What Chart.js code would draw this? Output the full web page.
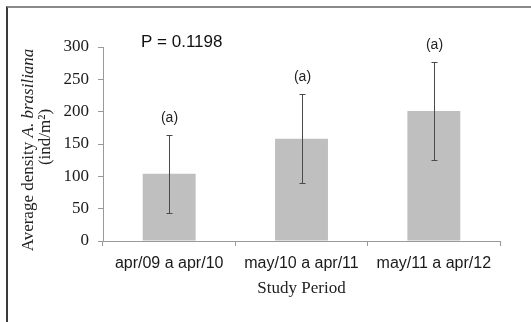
<!DOCTYPE html>
<html>
<head>
<meta charset="utf-8">
<script src="https://cdn.jsdelivr.net/npm/chart.js@4.4.1/dist/chart.umd.min.js"></script>
<style>
  html, body { margin: 0; padding: 0; background: #fff; }
  #wrap { position: relative; width: 531px; height: 322px; }
  #frame { position: absolute; left: 6px; top: 6px; right: 0; bottom: 0;
           border-top: 2px solid #8a8a8a; border-left: 2px solid #3a3a3a; pointer-events: none; }
</style>
</head>
<body>
<div id="wrap">
  <canvas id="chart" width="531" height="322"></canvas>
  <div id="frame"></div>
</div>
<script>
// данные
const categories = ['apr/09 a apr/10', 'may/10 a apr/11', 'may/11 a apr/12'];
const means = [104, 158, 201];
const errUpper = [164, 228, 277];
const errLower = [44, 89, 126];
const groupLabels = ['(a)', '(a)', '(a)'];
const yTicks = [0, 50, 100, 150, 200, 250, 300];
const pText = 'P = 0.1198';

// усы погрешностей, буквы групп и подпись оси Y
const extras = {
  id: 'extras',
  afterDatasetsDraw(chart) {
    const ctx = chart.ctx;
    const x = chart.scales.x, y = chart.scales.y;
    ctx.save();
    ctx.strokeStyle = '#4a4a4a';
    ctx.lineWidth = 1;
    categories.forEach((c, i) => {
      const cx = Math.round(x.getPixelForValue(i)) + 0.5;
      const yt = Math.round(y.getPixelForValue(errUpper[i])) + 0.5;
      const yb = Math.round(y.getPixelForValue(errLower[i])) + 0.5;
      ctx.beginPath();
      ctx.moveTo(cx, yt); ctx.lineTo(cx, yb);
      ctx.moveTo(cx - 3, yt); ctx.lineTo(cx + 3, yt);
      ctx.moveTo(cx - 3, yb); ctx.lineTo(cx + 3, yb);
      ctx.stroke();

      ctx.fillStyle = '#222';
      ctx.font = '14px "Liberation Sans", Arial, sans-serif';
      ctx.textAlign = 'center';
      ctx.textBaseline = 'middle';
      ctx.fillText(groupLabels[i], cx, yt - 17);
    });

    // P value
    ctx.fillStyle = '#111';
    ctx.font = '17px "Liberation Sans", Arial, sans-serif';
    ctx.textAlign = 'left';
    ctx.textBaseline = 'middle';
    ctx.fillText(pText, 141, 42);

    // y axis title, two lines, part italic
    ctx.fillStyle = '#222';
    ctx.textBaseline = 'middle';
    ctx.translate(29, 150);
    ctx.rotate(-Math.PI / 2);
    const normalFont = '17px "Liberation Serif", "Times New Roman", serif';
    const italicFont = 'italic 17px "Liberation Serif", "Times New Roman", serif';
    const partA = 'Average density ', partB = 'A. brasiliana';
    ctx.font = normalFont;
    const wA = ctx.measureText(partA).width;
    ctx.font = italicFont;
    const wB = ctx.measureText(partB).width;
    let sx = -(wA + wB) / 2;
    ctx.textAlign = 'left';
    ctx.font = normalFont;
    ctx.fillText(partA, sx, 0);
    ctx.font = italicFont;
    ctx.fillText(partB, sx + wA, 0);
    ctx.font = normalFont;
    ctx.textAlign = 'center';
    ctx.fillText('(ind/m²)', 13, 17);
    ctx.restore();
  }
};

new Chart(document.getElementById('chart'), {
  type: 'bar',
  data: {
    labels: categories,
    datasets: [{
      data: means,
      backgroundColor: '#bfbfbf',
      borderWidth: 0,
      categoryPercentage: 1,
      barPercentage: 0.4
    }]
  },
  options: {
    responsive: false,
    animation: false,
    events: [],
    layout: { padding: { top: 47, right: 31, left: 0, bottom: 23 } },
    plugins: { legend: { display: false }, tooltip: { enabled: false } },
    scales: {
      x: {
        grid: { display: true, drawOnChartArea: false, drawTicks: true, tickLength: 5, color: '#9a9a9a', offset: true },
        border: { color: '#9a9a9a' },
        ticks: { color: '#1a1a1a', font: { family: '"Liberation Sans", Arial, sans-serif', size: 16 }, padding: 8, maxRotation: 0 },
        title: { display: true, text: 'Study Period', color: '#222',
                 font: { family: '"Liberation Serif", "Times New Roman", serif', size: 17 }, padding: { top: 0, bottom: 0 } },
        afterFit: s => { s.height = 58; }
      },
      y: {
        min: 0, max: 300,
        afterBuildTicks: s => { s.ticks = yTicks.map(v => ({ value: v })); },
        grid: { display: true, drawOnChartArea: false, drawTicks: true, tickLength: 5, color: '#9a9a9a' },
        border: { color: '#9a9a9a' },
        ticks: { color: '#1a1a1a', font: { family: '"Liberation Serif", "Times New Roman", serif', size: 17 }, padding: 9 },
        afterFit: s => { s.width = 103; }
      }
    }
  },
  plugins: [extras]
});
</script>
</body>
</html>
